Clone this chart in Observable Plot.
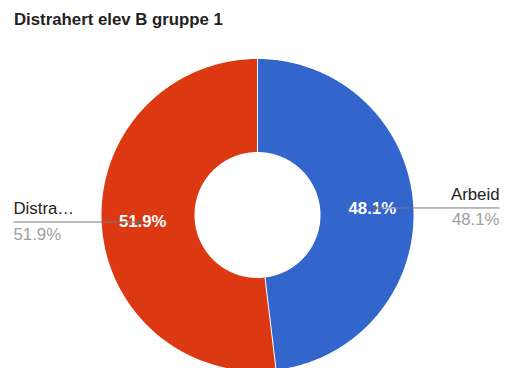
<!DOCTYPE html>
<html><head><meta charset="utf-8">
<script src="https://cdn.jsdelivr.net/npm/d3@7"></script>
<script src="https://cdn.jsdelivr.net/npm/@observablehq/plot@0.6"></script>
<style>
body{margin:0;background:#fff;overflow:hidden}
#wrap{position:relative;width:508px;height:368px;overflow:hidden}
#title{position:absolute;left:14px;top:10px;line-height:20px;font:bold 16.8px "Liberation Sans",Arial,sans-serif;color:#222;white-space:nowrap}
#wrap svg{position:absolute;left:0;top:0}
</style></head><body>
<div id="wrap"><div id="title">Distrahert elev B gruppe 1</div></div>
<script>
// Data
const categories = ["Arbeid", "Distrahert"];
const values = [48.1, 51.9];
const colors = ["#3366cc", "#dc3912"];

// Layout constants (pixels)
const W = 508, H = 368;
const cx = 257, cy = 214.5, R = 156, r0 = 63;
const rLabel = 115, rDot = 118;
const leftEdge = 13, rightEdge = 499;
const FONT = "Liberation Sans, Arial, sans-serif";
const FS = 16.8;

const total = d3.sum(values);
const arcs = d3.pie().sort(null).value(d => d)(values);
const pt = (a, rho) => ({x: cx + rho * Math.sin(a), y: cy - rho * Math.cos(a)});

// Slice polygons
const slicePts = [];
arcs.forEach((a, i) => {
  const key = categories[i];
  const n = Math.max(8, Math.ceil((a.endAngle - a.startAngle) / 0.01));
  for (let k = 0; k <= n; k++) {
    const t = a.startAngle + (a.endAngle - a.startAngle) * k / n;
    slicePts.push({key, ...pt(t, R)});
  }
  for (let k = n; k >= 0; k--) {
    const t = a.startAngle + (a.endAngle - a.startAngle) * k / n;
    slicePts.push({key, ...pt(t, r0)});
  }
});

// Separators
const seps = arcs.map(a => {
  const p1 = pt(a.startAngle, r0), p2 = pt(a.startAngle, R);
  return {x1: p1.x, y1: p1.y, x2: p2.x, y2: p2.y};
});

const fmt = v => (v / total * 100).toFixed(1) + "%";
const shortName = s => s.length > 6 ? s.slice(0, 6) + "\u2026" : s;

const info = arcs.map((a, i) => {
  const mid = (a.startAngle + a.endAngle) / 2;
  const right = Math.sin(mid) > 0;
  const lp = pt(mid, rLabel);
  const dp = pt(mid, rDot);
  return {
    name: shortName(categories[i]),
    pct: fmt(values[i]),
    lx: lp.x, ly: lp.y,
    dx: dp.x, dy: dp.y,
    ex: right ? rightEdge : leftEdge,
    anchor: right ? "end" : "start"
  };
});

const chart = Plot.plot({
  width: W, height: H,
  marginTop: 0, marginRight: 0, marginBottom: 0, marginLeft: 0,
  x: {domain: [0, W], axis: null},
  y: {domain: [H, 0], axis: null},
  color: {domain: categories, range: colors},
  style: {background: "transparent", overflow: "visible"},
  marks: [
    Plot.line(slicePts, {x: "x", y: "y", z: "key", fill: "key", stroke: "none", curve: "linear-closed"}),
    Plot.link(seps, {x1: "x1", y1: "y1", x2: "x2", y2: "y2", stroke: "white", strokeWidth: 1}),
    Plot.text(info, {x: "lx", y: "ly", text: "pct", fill: "white", fontWeight: "bold", fontSize: FS, fontFamily: FONT, textAnchor: "middle", lineAnchor: "middle"}),
    Plot.link(info, {x1: "dx", y1: "dy", x2: "ex", y2: "dy", stroke: "#777", strokeWidth: 1}),
    Plot.dot(info, {x: "dx", y: "dy", r: 2, fill: "#666", stroke: "none"}),
    Plot.text(info.filter(d => d.anchor === "end"), {x: "ex", y: d => d.dy - 8, text: "name", fill: "#222", fontSize: FS, fontFamily: FONT, textAnchor: "end", lineAnchor: "bottom"}),
    Plot.text(info.filter(d => d.anchor === "end"), {x: "ex", y: d => d.dy + 17.5, text: "pct", fill: "#9e9e9e", fontSize: FS, fontFamily: FONT, textAnchor: "end", lineAnchor: "bottom"}),
    Plot.text(info.filter(d => d.anchor === "start"), {x: "ex", y: d => d.dy - 8, text: "name", fill: "#222", fontSize: FS, fontFamily: FONT, textAnchor: "start", lineAnchor: "bottom"}),
    Plot.text(info.filter(d => d.anchor === "start"), {x: "ex", y: d => d.dy + 17.5, text: "pct", fill: "#9e9e9e", fontSize: FS, fontFamily: FONT, textAnchor: "start", lineAnchor: "bottom"})
  ]
});
document.getElementById("wrap").insertBefore(chart, document.getElementById("title"));
</script>
</body></html>
